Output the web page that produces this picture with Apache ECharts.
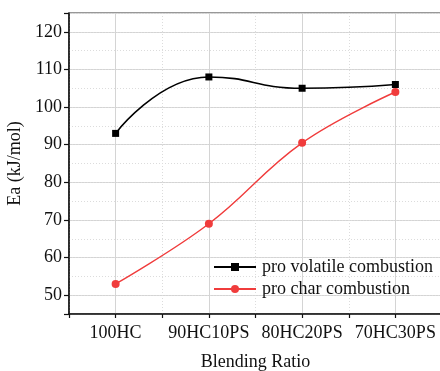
<!DOCTYPE html>
<html>
<head>
<meta charset="utf-8">
<script src="https://cdn.jsdelivr.net/npm/echarts@6/dist/echarts.min.js"></script>
<style>
  html, body { margin: 0; padding: 0; background: #fff; }
  #chart { width: 440px; height: 371px; }
</style>
</head>
<body>
<div id="chart"></div>
<script>
// data
const categories = ['100HC', '90HC10PS', '80HC20PS', '70HC30PS'];
const volatileEa = [93, 108, 105, 106];
const charEa = [53, 69, 90.5, 104];
const seriesNames = ['pro volatile combustion', 'pro char combustion'];
const yRange = [45, 125];

const FONT = 'Liberation Serif, Times New Roman, serif';
const gridSolid = '#d4d4d4';
const gridDotted = '#dcdcdc';

const chart = echarts.init(document.getElementById('chart'));

const baseX = {
  type: 'category',
  data: categories,
  boundaryGap: true,
  position: 'bottom',
};

const option = {
  animation: false,
  textStyle: { fontFamily: FONT },
  grid: {
    left: 69,
    width: 373, // right edge runs just past the canvas, as in the reference
    top: 13,
    bottom: 57,
    outerBoundsMode: 'none',
    containLabel: false,
    show: true,
    borderColor: '#333',
    borderWidth: 1.2,
    backgroundColor: 'transparent',
  },
  legend: {
    orient: 'vertical',
    left: 213,
    top: 258,
    padding: 0,
    itemWidth: 42,
    itemHeight: 10,
    itemGap: 4,
    textStyle: { fontFamily: FONT, fontSize: 18, color: '#111', padding: [0, 0, 0, 1] },
    data: seriesNames,
  },
  xAxis: [
    {
      ...baseX,
      // ticks + dotted lines on category boundaries
      name: 'Blending Ratio',
      nameLocation: 'middle',
      nameGap: 39,
      nameTextStyle: { fontFamily: FONT, fontSize: 18, color: '#111' },
      axisLine: { lineStyle: { color: '#111', width: 1.5 } },
      axisTick: { show: true, interval: 0, length: 4, lineStyle: { color: '#111', width: 1.2 } },
      axisLabel: { interval: 0, fontFamily: FONT, fontSize: 18, color: '#111', margin: 10 },
      splitLine: { show: true, interval: 0, lineStyle: { color: gridDotted, type: [1, 2], width: 1 } },
    },
    {
      ...baseX,
      // ticks + solid lines on category centres
      axisLine: { show: false },
      axisTick: { show: true, interval: 0, alignWithLabel: true, length: 4, lineStyle: { color: '#111', width: 1.2 } },
      axisLabel: { show: false },
      splitLine: { show: true, interval: 0, alignWithLabel: true, lineStyle: { color: gridSolid, width: 1 } },
    },
  ],
  yAxis: [
    {
      type: 'value',
      min: yRange[0],
      max: yRange[1],
      splitNumber: 8,
      name: 'Ea (kJ/mol)',
      nameLocation: 'middle',
      nameGap: 40,
      nameTextStyle: { fontFamily: FONT, fontSize: 18, color: '#111' },
      axisLine: { show: true, lineStyle: { color: '#111', width: 1.5 } },
      axisTick: { show: true, length: 5, lineStyle: { color: '#111', width: 1.2 } },
      axisLabel: {
        fontFamily: FONT, fontSize: 18, color: '#111', margin: 7,
        formatter: (v) => (v % 10 === 0 ? String(v) : ''),
      },
      splitLine: { show: true, lineStyle: { color: gridSolid, width: 1 } },
    },
    {
      type: 'value',
      min: yRange[0],
      max: yRange[1],
      interval: 5,
      axisLine: { show: false },
      axisTick: { show: true, length: 3, lineStyle: { color: '#111', width: 1.2 } },
      axisLabel: { show: false },
      splitLine: { show: true, lineStyle: { color: gridDotted, type: [1, 2], width: 1 } },
    },
  ],
  series: [
    {
      name: seriesNames[0],
      type: 'line',
      data: volatileEa,
      smooth: 0.5,
      symbol: 'rect',
      symbolSize: 7,
      z: 3,
      itemStyle: { color: '#000' },
      lineStyle: { color: '#000', width: 1.6 },
    },
    {
      name: seriesNames[1],
      type: 'line',
      data: charEa,
      smooth: 0.4,
      symbol: 'circle',
      symbolSize: 8,
      itemStyle: { color: '#f03c3c' },
      lineStyle: { color: '#f03c3c', width: 1.4 },
    },
  ],
};

chart.setOption(option);
</script>
</body>
</html>
